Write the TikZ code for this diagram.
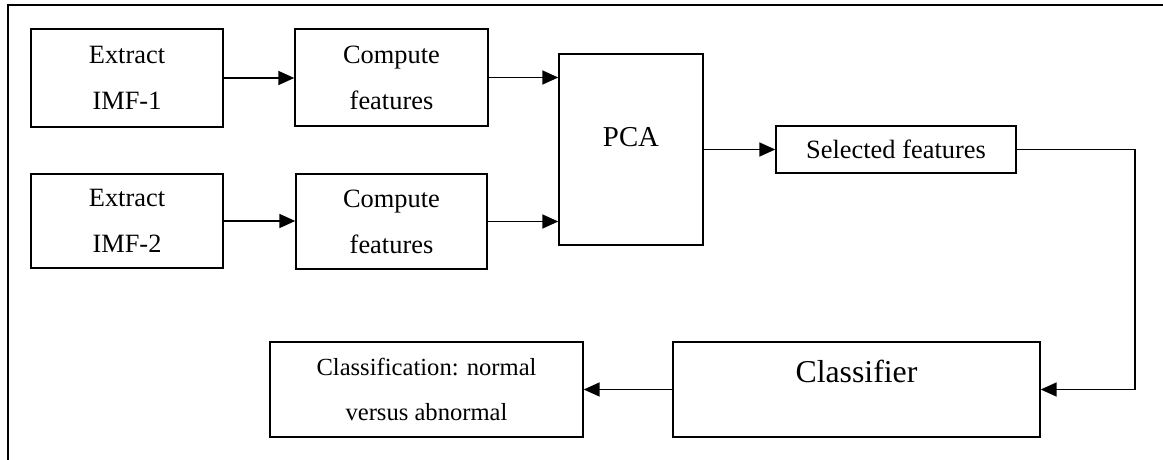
\documentclass[tikz,border=0pt]{standalone}
\usepackage{fontspec}
\setmainfont{Liberation Serif}
\usetikzlibrary{arrows.meta}
\begin{document}
\begin{tikzpicture}[x=0.5pt,y=-0.5pt,
  box/.style={draw, line width=0.7pt, inner sep=0pt, align=center, font=\fontsize{13.2}{23}\selectfont},
  arr/.style={line width=0.9pt, -{Triangle[length=8pt,width=7pt]}},
  frame/.style={line width=1.2pt}]
\useasboundingbox (0,0) rectangle (1163,460);
\clip (0,0) rectangle (1163,460);
\draw[frame] (1175,5) -- (8,5) -- (8,475);

\node[box, minimum width=96pt, minimum height=49pt] (e1) at (127,78) {Extract\\IMF-1};
\node[box, minimum width=96.5pt, minimum height=48.5pt] (c1) at (391.5,77.5) {Compute\\features};
\node[box, minimum width=96pt, minimum height=47pt] (e2) at (127,221) {Extract\\IMF-2};
\node[box, minimum width=95.5pt, minimum height=47.5pt] (c2) at (391.5,221.5) {Compute\\features};
\node[box, minimum width=72pt, minimum height=95.5pt, font=\fontsize{14.4}{17}\selectfont, text height=9.5pt, text depth=12pt] (pca) at (631,149.5) {PCA};
\node[box, minimum width=120pt, minimum height=23.5pt] (sel) at (896,149.5) {Selected features};
\node[box, minimum width=183.5pt, minimum height=47.5pt, font=\fontsize{15.9}{19}\selectfont, text height=10.8pt, text depth=18.3pt] (cls) at (856.5,389.5) {Classifier};
\node[box, minimum width=156.5pt, minimum height=47.5pt, font=\fontsize{12.3}{22.5}\selectfont] (out) at (426.5,389.5) {Classification: normal\\versus abnormal};

\coordinate (turn) at (1135,150);
\draw[arr] (e1.east) -- (e1.east -| c1.west);
\draw[arr] (e2.east) -- (e2.east -| c2.west);
\draw[arr] (c1.east) -- (c1.east -| pca.west);
\draw[arr] (c2.east) -- (c2.east -| pca.west);
\draw[arr] (pca.east) -- (pca.east -| sel.west);
\draw[arr] (sel.east) -- (sel.east -| turn) |- (cls.east);
\draw[arr] (cls.west) -- (out.east);
\end{tikzpicture}
\end{document}
